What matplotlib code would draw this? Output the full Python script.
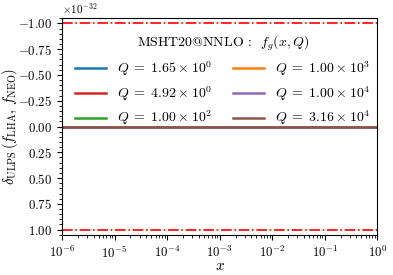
import numpy as np
import matplotlib
matplotlib.use("Agg")
import matplotlib.pyplot as plt
from matplotlib.ticker import AutoMinorLocator

plt.rcParams['font.family'] = 'serif'
plt.rcParams['font.serif'] = ['cmr10']
plt.rcParams['mathtext.fontset'] = 'cm'
plt.rcParams['axes.formatter.use_mathtext'] = True
plt.rcParams['axes.unicode_minus'] = True

# data
x_grid = [1e-6, 1e-5, 1e-4, 1e-3, 1e-2, 1e-1, 1.0]
q_labels = [r'$Q\;=\;1.65\:\times\:10^{0}$', r'$Q\;=\;4.92\:\times\:10^{0}$',
            r'$Q\;=\;1.00\:\times\:10^{2}$', r'$Q\;=\;1.00\:\times\:10^{3}$',
            r'$Q\;=\;1.00\:\times\:10^{4}$', r'$Q\;=\;3.16\:\times\:10^{4}$']
delta_ulps = [
    [0, 0, 0, 0, 0, 0, 0],
    [0, 0, 0, 0, 0, 0, 0],
    [0, 0, 0, 0, 0, 0, 0],
    [0, 0, 0, 0, 0, 0, 0],
    [0, 0, 0, 0, 0, 0, 0],
    [0, 0, 0, 0, 0, 0, 0],
]
colors = ['#1f77b4', '#d62728', '#2ca02c', '#ff7f0e', '#9467bd', '#8c564b']
ulp_bound = 1e-32

fig, ax = plt.subplots(figsize=(3.93, 2.75), dpi=100)
for vals, lab, c in zip(delta_ulps, q_labels, colors):
    ax.plot(x_grid, np.array(vals) * ulp_bound, color=c, lw=1.8, label=lab)
ax.axhline(ulp_bound, color='red', ls='-.', lw=1.2)
ax.axhline(-ulp_bound, color='red', ls='-.', lw=1.2)

ax.set_xscale('log')
ax.set_xlim(1e-6, 1)
ax.set_ylim(1.053e-32, -1.053e-32)
ax.set_yticks(np.array([-1.0, -0.75, -0.5, -0.25, 0.0, 0.25, 0.5, 0.75, 1.0]) * 1e-32)
ax.minorticks_on()
ax.yaxis.set_minor_locator(AutoMinorLocator(5))
ax.tick_params(labelsize=9.2)
ax.set_xlabel(r'$x$', fontsize=11, labelpad=-1)
ax.set_ylabel(r'$\delta_{\mathrm{ULPS}}\,(f_{\mathrm{LHA}},\, f_{\mathrm{NEO}})$', fontsize=10.5)
ax.yaxis.set_label_coords(-0.135, 0.5)
ax.yaxis.get_offset_text().set_fontsize(8)

ax.legend(ncol=2, frameon=False, fontsize=10, loc='upper center',
          bbox_to_anchor=(0.51, 0.985), title=r'MSHT20@NNLO :  $f_g(x,Q)$',
          title_fontsize=10, handlelength=2.2, handletextpad=0.8,
          columnspacing=1.5, labelspacing=0.45)

fig.subplots_adjust(left=0.158, right=0.96, top=0.935, bottom=0.145)
fig.savefig('out.png', dpi=100)
